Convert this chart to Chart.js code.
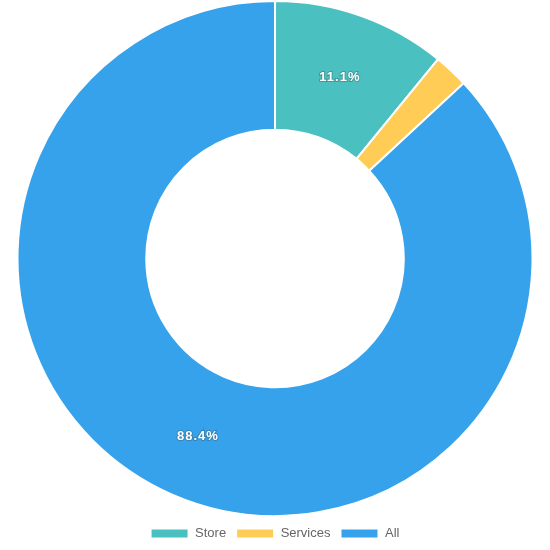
<!DOCTYPE html>
<html lang="en">
<head>
  <meta charset="utf-8">
  <title>Share</title>
  <script src="https://cdn.jsdelivr.net/npm/chart.js"></script>
  <style>
    html, body { margin: 0; padding: 0; background: #fff; }
    .chart-box { width: 550px; height: 550px; }
  </style>
</head>
<body>
  <div class="chart-box"><canvas id="shareChart"></canvas></div>

  <script>
    const labels = ['Store', 'Services', 'All'];
    const values = [11.1, 2.2, 88.4];
    const colors = ['#4bc0c0', '#ffcd56', '#36a2eb'];

    // percent text drawn in the middle of each slice, skipped for tiny ones
    const sliceLabels = {
      id: 'sliceLabels',
      afterDatasetsDraw(chart) {
        const ctx = chart.ctx;
        const meta = chart.getDatasetMeta(0);
        ctx.save();
        ctx.font = 'bold 13px "Liberation Sans", Arial, sans-serif';
        ctx.letterSpacing = '1px';
        ctx.textAlign = 'center';
        ctx.textBaseline = 'middle';
        meta.data.forEach((arc, i) => {
          if (values[i] < 5) return;
          const p = arc.tooltipPosition();
          const txt = values[i].toFixed(1) + '%';
          ctx.lineWidth = 2;
          ctx.strokeStyle = 'rgba(60,60,60,0.3)';
          ctx.strokeText(txt, p.x, p.y + 1);
          ctx.fillStyle = '#fff';
          ctx.fillText(txt, p.x, p.y + 1);
        });
        ctx.restore();
      }
    };

    new Chart(document.getElementById('shareChart').getContext('2d'), {
      type: 'doughnut',
      data: {
        labels,
        datasets: [{ data: values, backgroundColor: colors, borderColor: '#fff', borderWidth: 2 }]
      },
      options: {
        responsive: true,
        maintainAspectRatio: false,
        animation: false,
        cutout: '50%',
        plugins: {
          legend: {
            position: 'bottom',
            labels: {
              boxWidth: 38,
              boxHeight: 10,
              color: '#666',
              font: { family: '"Liberation Sans", Arial, sans-serif', size: 13 }
            }
          },
          tooltip: { enabled: false }
        }
      },
      plugins: [sliceLabels]
    });
  </script>
</body>
</html>
